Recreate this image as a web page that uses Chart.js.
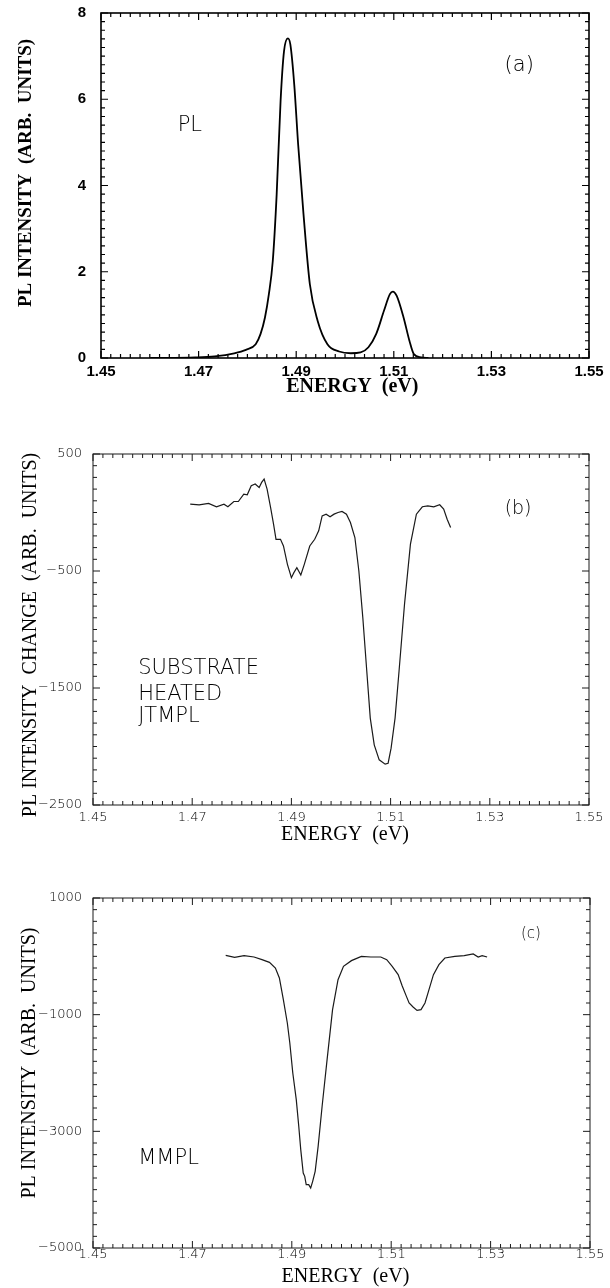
<!DOCTYPE html>
<html>
<head>
<meta charset="utf-8">
<title>PL spectra</title>
<script src="https://cdn.jsdelivr.net/npm/chart.js@4.4.1/dist/chart.umd.min.js"></script>
<style>
  html, body { margin: 0; padding: 0; background: #fff; }
  body { width: 610px; height: 1288px; position: relative; overflow: hidden; }
  canvas { position: absolute; left: 0; }
</style>
</head>
<body>
<canvas id="graficoA" width="610" height="430" style="top:0"></canvas>
<canvas id="graficoB" width="610" height="430" style="top:430px"></canvas>
<canvas id="graficoC" width="610" height="428" style="top:860px"></canvas>
<script>
// tick labels
const xTicks = [1.45, 1.47, 1.49, 1.51, 1.53, 1.55];
const yTicksA = [0, 2, 4, 6, 8];
const yTicksB = [-2500, -1500, -500, 500];
const yTicksC = [-5000, -3000, -1000, 1000];

// (a) PL
const energyA = [1.4601, 1.4693, 1.4733, 1.4773, 1.4797, 1.4817, 1.4827, 1.4836, 1.4844, 1.4852,
  1.4860, 1.4868, 1.4875, 1.4883, 1.4888, 1.4896, 1.4904, 1.4915, 1.4928, 1.4944,
  1.4964, 1.4988, 1.5012, 1.5032, 1.5048, 1.5064, 1.5080, 1.5092, 1.5098, 1.5106,
  1.5120, 1.5132, 1.5141, 1.5156, 1.5171];
const intensityA = [0, 0.015, 0.04, 0.11, 0.19, 0.32, 0.56, 0.94, 1.48, 2.25,
  3.80, 5.96, 7.11, 7.41, 7.27, 6.34, 4.95, 3.33, 1.71, 0.86,
  0.32, 0.15, 0.11, 0.13, 0.25, 0.56, 1.10, 1.48, 1.54, 1.44,
  0.94, 0.40, 0.09, 0.015, 0];

// (b) substrate heated JTMPL
const energyB = [1.4696, 1.4714, 1.4733, 1.4749, 1.4764, 1.4772, 1.4784, 1.4793, 1.4804, 1.4811,
  1.4819, 1.4827, 1.4835, 1.4840, 1.4845, 1.4851, 1.4858, 1.4864, 1.4869, 1.4878,
  1.4884, 1.4892, 1.4900, 1.4905, 1.4911, 1.4919, 1.4926, 1.4937, 1.4947, 1.4955,
  1.4962, 1.4970, 1.4978, 1.4986, 1.4994, 1.5002, 1.5011, 1.5019, 1.5028, 1.5036,
  1.5044, 1.5052, 1.5059, 1.5067, 1.5077, 1.5089, 1.5095, 1.5101, 1.5109, 1.5117,
  1.5128, 1.5140, 1.5152, 1.5164, 1.5175, 1.5187, 1.5199, 1.5207, 1.5214, 1.5221];
const changeB = [71, 66, 77, 49, 71, 49, 94, 94, 157, 151,
  229, 243, 214, 257, 286, 200, 43, -100, -229, -229,
  -286, -443, -557, -514, -471, -534, -443, -286, -229, -157,
  -29, -14, -37, -14, 0, 9, -14, -86, -214, -500,
  -900, -1357, -1757, -1986, -2114, -2151, -2143, -2014, -1757, -1357,
  -786, -271, -14, 49, 57, 49, 66, 29, -57, -129];

// (c) MMPL
const energyC = [1.4767, 1.4785, 1.4804, 1.4824, 1.4840, 1.4855, 1.4867, 1.4875, 1.4883, 1.4891,
  1.4896, 1.4902, 1.4909, 1.4914, 1.4918, 1.4923, 1.4926, 1.4929, 1.4934, 1.4938,
  1.4942, 1.4947, 1.4953, 1.4961, 1.4971, 1.4982, 1.4993, 1.5004, 1.5020, 1.5040,
  1.5059, 1.5079, 1.5091, 1.5102, 1.5114, 1.5122, 1.5130, 1.5136, 1.5144, 1.5152,
  1.5160, 1.5168, 1.5175, 1.5185, 1.5196, 1.5208, 1.5228, 1.5247, 1.5265, 1.5275,
  1.5283, 1.5293];
const intensityC = [17, -17, 11, -11, -57, -103, -200, -371, -743, -1143,
  -1486, -2000, -2457, -2914, -3314, -3714, -3771, -3914, -3914, -3971,
  -3857, -3686, -3257, -2571, -1771, -914, -400, -171, -74, 0,
  -11, -11, -57, -171, -314, -503, -674, -800, -869, -926,
  -914, -800, -600, -314, -143, -29, 0, 11, 40, -11,
  11, -11];

const thinFont = 'DejaVu Sans';
const serif = "'Liberation Serif', serif";

// moldura com ticks para dentro, titulos dos eixos e anotações
function frame(p) {
  return {
    id: 'frame',
    afterDraw(chart) {
      const { ctx, chartArea: a, scales: { x, y } } = chart;
      ctx.save();
      ctx.strokeStyle = p.color;
      ctx.lineWidth = p.frameWidth;
      ctx.strokeRect(a.left, a.top, a.right - a.left, a.bottom - a.top);
      ctx.lineWidth = p.tickWidth;
      ctx.beginPath();
      const nx = Math.round((x.max - x.min) / p.xStep);
      for (let i = 0; i <= nx; i++) {
        const px = x.getPixelForValue(x.min + i * p.xStep);
        const len = i % 10 === 0 ? p.majorLen : p.minorLen;
        ctx.moveTo(px, a.bottom); ctx.lineTo(px, a.bottom - len);
        ctx.moveTo(px, a.top); ctx.lineTo(px, a.top + len);
      }
      const ny = Math.round((y.max - y.min) / p.yStep);
      for (let i = 0; i <= ny; i++) {
        const py = y.getPixelForValue(y.min + i * p.yStep);
        const len = i % 10 === 0 ? p.majorLen : p.minorLen;
        ctx.moveTo(a.left, py); ctx.lineTo(a.left + len, py);
        ctx.moveTo(a.right, py); ctx.lineTo(a.right - len, py);
      }
      ctx.stroke();

      ctx.fillStyle = '#000';
      ctx.textBaseline = 'middle';
      ctx.textAlign = 'center';
      // titulo eixo x
      ctx.font = p.xTitleFont;
      ctx.fillText('ENERGY  (eV)', x.getPixelForValue(p.xTitleAt), a.bottom + p.xTitleDy);
      // titulo eixo y
      ctx.save();
      ctx.translate(a.left - p.yTitleDx, y.getPixelForValue(p.yTitleAt));
      ctx.rotate(-Math.PI / 2);
      ctx.font = p.yTitleFont;
      ctx.fillText(p.yTitle, 0, 0);
      ctx.restore();

      p.notes.forEach(n => {
        ctx.font = n.font;
        ctx.textAlign = n.align || 'center';
        ctx.fillText(n.text, x.getPixelForValue(n.x), y.getPixelForValue(n.y));
      });
      ctx.restore();
    }
  };
}

function fmtY(v) {
  return v < 0 ? '\u2212' + Math.abs(v) : String(v);
}

function makeChart(id, p) {
  return new Chart(document.getElementById(id), {
    type: 'line',
    data: {
      datasets: [{
        data: p.xs.map((v, i) => ({ x: v, y: p.ys[i] })),
        borderColor: p.color,
        borderWidth: p.lineWidth,
        pointRadius: 0,
        fill: false,
        cubicInterpolationMode: p.smooth ? 'monotone' : 'default',
        tension: p.smooth ? 0.4 : 0
      }]
    },
    options: {
      responsive: false,
      animation: false,
      devicePixelRatio: 1,
      layout: { padding: p.padding },
      plugins: { legend: { display: false }, tooltip: { enabled: false } },
      scales: {
        x: {
          type: 'linear', min: 1.45, max: 1.55,
          grid: { display: false, drawTicks: false }, border: { display: false },
          afterBuildTicks: s => { s.ticks = xTicks.map(v => ({ value: v })); },
          afterFit: s => { s.height = p.xHeight; s.paddingLeft = 0; s.paddingRight = 0; },
          ticks: { font: p.tickFont, color: '#000', padding: p.xPad, maxRotation: 0, autoSkip: false,
            callback: v => v.toFixed(2) }
        },
        y: {
          type: 'linear', min: p.yMin, max: p.yMax,
          grid: { display: false, drawTicks: false }, border: { display: false },
          afterBuildTicks: s => { s.ticks = p.yTicks.map(v => ({ value: v })); },
          afterFit: s => { s.width = p.yWidth; s.paddingTop = 0; s.paddingBottom = 0; },
          ticks: { font: p.tickFont, color: '#000', padding: p.yPad, autoSkip: false, callback: fmtY }
        }
      }
    },
    plugins: [frame(p)]
  });
}

makeChart('graficoA', {
  xs: energyA, ys: intensityA, smooth: true,
  yMin: 0, yMax: 8, yTicks: yTicksA, xStep: 0.002, yStep: 0.2,
  color: '#000', lineWidth: 1.8, frameWidth: 1.6, tickWidth: 1.2, majorLen: 7, minorLen: 4,
  padding: { top: 13, right: 21, left: 0, bottom: 0 },
  yWidth: 101, xHeight: 72, xPad: 5, yPad: 15,
  tickFont: { family: "'Liberation Sans', sans-serif", size: 15, weight: 'bold' },
  xTitleFont: `bold 20px ${serif}`, xTitleDy: 29, xTitleAt: 1.5015,
  yTitleFont: `bold 19px ${serif}`, yTitleDx: 75, yTitleAt: 4.29,
  yTitle: 'PL INTENSITY  (ARB.  UNITS)',
  notes: [
    { text: '(a)', x: 1.5357, y: 6.77, font: `200 21px ${thinFont}` },
    { text: 'PL', x: 1.4682, y: 5.38, font: `200 21px ${thinFont}` }
  ]
});

makeChart('graficoB', {
  xs: energyB, ys: changeB, smooth: false,
  yMin: -2500, yMax: 500, yTicks: yTicksB, xStep: 0.002, yStep: 100,
  color: '#1a1a1a', lineWidth: 1.2, frameWidth: 1, tickWidth: 1, majorLen: 7, minorLen: 4,
  padding: { top: 24, right: 21, left: 0, bottom: 0 },
  yWidth: 93, xHeight: 55, xPad: 5, yPad: 11,
  tickFont: { family: thinFont, size: 13, weight: 200 },
  xTitleFont: `20px ${serif}`, xTitleDy: 30, xTitleAt: 1.5008,
  yTitleFont: `20px ${serif}`, yTitleDx: 62, yTitleAt: -1047,
  yTitle: 'PL INTENSITY  CHANGE  (ARB.  UNITS)',
  notes: [
    { text: '(b)', x: 1.5357, y: 30, font: `200 19px ${thinFont}` },
    { text: 'SUBSTRATE', x: 1.4591, y: -1338, align: 'left', font: `200 21px ${thinFont}` },
    { text: 'HEATED', x: 1.4591, y: -1560, align: 'left', font: `200 21px ${thinFont}` },
    { text: 'JTMPL', x: 1.4591, y: -1748, align: 'left', font: `200 21px ${thinFont}` }
  ]
});

makeChart('graficoC', {
  xs: energyC, ys: intensityC, smooth: false,
  yMin: -5000, yMax: 1000, yTicks: yTicksC, xStep: 0.002, yStep: 200,
  color: '#1a1a1a', lineWidth: 1.2, frameWidth: 1, tickWidth: 1, majorLen: 7, minorLen: 4,
  padding: { top: 38, right: 20, left: 0, bottom: 0 },
  yWidth: 93, xHeight: 40, xPad: -1, yPad: 11,
  tickFont: { family: thinFont, size: 13, weight: 200 },
  xTitleFont: `20px ${serif}`, xTitleDy: 29, xTitleAt: 1.5008,
  yTitleFont: `20px ${serif}`, yTitleDx: 63, yTitleAt: -1829,
  yTitle: 'PL INTENSITY  (ARB.  UNITS)',
  notes: [
    { text: '(c)', x: 1.5381, y: 383, font: `200 15px ${thinFont}` },
    { text: 'MMPL', x: 1.4591, y: -3474, align: 'left', font: `200 21px ${thinFont}` }
  ]
});
</script>
</body>
</html>
